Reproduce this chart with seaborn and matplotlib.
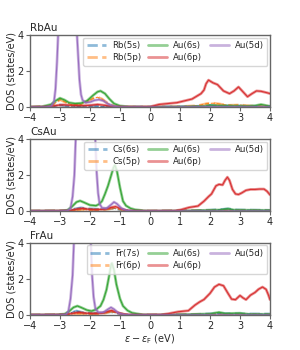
import matplotlib
matplotlib.use('Agg')
import matplotlib.pyplot as plt
import seaborn as sns
import numpy as np

# Projected DOS (energy in eV, DOS in states/eV)
RB_5S = [(-4, 0), (-3.2, 0.03), (-3.0, 0.12), (-2.8, 0.06), (-2.4, 0.04), (-1.8, 0.06), (-1.5, 0.03),
         (-1.0, 0), (1.0, 0.02), (1.8, 0.06), (2.0, 0.1), (2.3, 0.08), (3.0, 0.06), (4, 0.04)]
RB_5P = [(-4, 0), (-3.3, 0.05), (-3.1, 0.3), (-3.0, 0.42), (-2.85, 0.3), (-2.6, 0.12), (-2.3, 0.15),
         (-2.1, 0.3), (-1.9, 0.48), (-1.75, 0.55), (-1.6, 0.45), (-1.4, 0.2), (-1.2, 0.06), (-0.9, 0.01),
         (0, 0), (1.0, 0.03), (1.6, 0.08), (1.9, 0.2), (2.1, 0.22), (2.3, 0.18), (2.6, 0.1), (3.0, 0.12),
         (3.4, 0.06), (4, 0.05)]
RB_AU6S = [(-4, 0), (-3.6, 0.03), (-3.3, 0.15), (-3.15, 0.35), (-3.0, 0.5), (-2.85, 0.4), (-2.7, 0.25),
           (-2.5, 0.2), (-2.3, 0.22), (-2.1, 0.35), (-1.9, 0.65), (-1.75, 0.85), (-1.65, 0.9), (-1.5, 0.75),
           (-1.35, 0.45), (-1.2, 0.2), (-1.0, 0.07), (-0.7, 0.02), (0, 0), (1.0, 0.02), (1.8, 0.05),
           (2.0, 0.1), (2.3, 0.08), (2.8, 0.07), (3.2, 0.05), (3.5, 0.08), (3.7, 0.15), (3.85, 0.1), (4, 0.05)]
RB_AU6P = [(-4, 0), (-3.4, 0.02), (-3.1, 0.1), (-2.9, 0.13), (-2.6, 0.1), (-2.3, 0.08), (-2.0, 0.1),
           (-1.75, 0.15), (-1.5, 0.1), (-1.2, 0.03), (-0.8, 0.01), (0, 0.02), (0.3, 0.15), (0.9, 0.25),
           (1.4, 0.45), (1.7, 0.75), (1.8, 0.95), (1.87, 1.3), (1.95, 1.5), (2.1, 1.35), (2.25, 1.25),
           (2.45, 0.9), (2.65, 0.75), (2.8, 0.9), (2.95, 1.12), (3.1, 0.85), (3.25, 0.58), (3.4, 0.75),
           (3.55, 0.9), (3.7, 0.88), (3.9, 0.8), (4, 0.75)]
RB_AU5D = [(-4, 0), (-3.5, 0.01), (-3.3, 0.05), (-3.2, 0.3), (-3.15, 1.0), (-3.1, 2.5), (-3.05, 4.5),
           (-2.9, 8), (-2.6, 8), (-2.45, 4.5), (-2.4, 3.0), (-2.35, 1.5), (-2.3, 0.7), (-2.25, 0.4),
           (-2.15, 0.25), (-2.0, 0.28), (-1.85, 0.38), (-1.7, 0.42), (-1.55, 0.35), (-1.4, 0.18),
           (-1.2, 0.05), (-1.0, 0.01), (0, 0), (1.9, 0.02), (4, 0.01)]

CS_6S = [(-4, 0), (-2.7, 0.02), (-2.5, 0.12), (-2.3, 0.18), (-2.1, 0.13), (-1.9, 0.12), (-1.7, 0.1),
         (-1.45, 0.12), (-1.2, 0.15), (-1.0, 0.08), (-0.7, 0.01), (0, 0), (1.5, 0.03), (2.0, 0.05),
         (2.3, 0.08), (2.6, 0.12), (2.9, 0.06), (3.5, 0.05), (4, 0.04)]
CS_5P = [(-4, 0), (-2.7, 0.01), (-2.4, 0.06), (-2.2, 0.08), (-1.9, 0.05), (-1.4, 0.1), (-1.2, 0.18),
         (-1.05, 0.12), (-0.8, 0.02), (0, 0), (2.6, 0.03), (4, 0.01)]
CS_AU6S = [(-4, 0), (-3, 0.01), (-2.75, 0.05), (-2.6, 0.25), (-2.45, 0.5), (-2.33, 0.57), (-2.2, 0.48),
           (-2.0, 0.33), (-1.8, 0.3), (-1.7, 0.38), (-1.6, 0.55), (-1.5, 0.95), (-1.4, 1.4), (-1.3, 1.95),
           (-1.22, 2.4), (-1.17, 2.55), (-1.1, 2.2), (-1.0, 1.3), (-0.9, 0.55), (-0.8, 0.3), (-0.65, 0.15),
           (-0.5, 0.08), (-0.2, 0.02), (0, 0), (1.0, 0.01), (1.8, 0.04), (2.3, 0.06), (2.6, 0.12),
           (2.8, 0.06), (3.2, 0.05), (4, 0.04)]
CS_AU6P = [(-4, 0), (-2.7, 0.02), (-2.4, 0.12), (-2.25, 0.15), (-2.05, 0.1), (-1.8, 0.08), (-1.5, 0.1),
           (-1.3, 0.2), (-1.15, 0.25), (-1.0, 0.15), (-0.8, 0.04), (-0.5, 0), (0.8, 0.01), (1.0, 0.06),
           (1.3, 0.2), (1.6, 0.28), (1.8, 0.55), (1.95, 0.8), (2.05, 0.95), (2.2, 1.4), (2.3, 1.48),
           (2.42, 1.45), (2.5, 1.7), (2.58, 1.88), (2.65, 1.7), (2.75, 1.2), (2.85, 0.95), (2.95, 0.92),
           (3.05, 1.0), (3.2, 1.15), (3.35, 1.2), (3.5, 1.2), (3.65, 1.22), (3.8, 1.22), (3.9, 1.1), (4, 0.9)]
CS_AU5D = [(-4, 0), (-3, 0), (-2.75, 0.02), (-2.65, 0.15), (-2.58, 0.8), (-2.52, 2.0), (-2.47, 4.3),
           (-2.3, 8), (-2.0, 8), (-1.83, 4.3), (-1.78, 2.2), (-1.73, 1.0), (-1.68, 0.4), (-1.6, 0.18),
           (-1.45, 0.15), (-1.3, 0.35), (-1.2, 0.5), (-1.1, 0.4), (-0.95, 0.15), (-0.8, 0.04), (-0.5, 0), (4, 0)]

FR_7S = [(-4, 0), (-2.8, 0.02), (-2.6, 0.15), (-2.45, 0.22), (-2.2, 0.12), (-1.9, 0.1), (-1.6, 0.12),
         (-1.3, 0.18), (-1.1, 0.1), (-0.8, 0.01), (0, 0), (1.5, 0.03), (2.3, 0.08), (3.0, 0.06), (4, 0.05)]
FR_6P = [(-4, 0), (-2.8, 0.01), (-2.5, 0.08), (-2.3, 0.07), (-1.9, 0.05), (-1.5, 0.1), (-1.3, 0.2),
         (-1.1, 0.12), (-0.8, 0.02), (0, 0), (2.3, 0.03), (4, 0.01)]
FR_AU6S = [(-4, 0), (-3.2, 0.01), (-2.85, 0.05), (-2.7, 0.2), (-2.55, 0.42), (-2.42, 0.5), (-2.3, 0.42),
           (-2.1, 0.27), (-1.95, 0.22), (-1.8, 0.3), (-1.65, 0.5), (-1.55, 0.85), (-1.45, 1.4), (-1.37, 2.1),
           (-1.3, 2.75), (-1.27, 2.87), (-1.2, 2.5), (-1.12, 1.7), (-1.0, 0.9), (-0.9, 0.5), (-0.75, 0.25),
           (-0.6, 0.12), (-0.3, 0.03), (0, 0), (1.0, 0.02), (2.0, 0.06), (2.3, 0.15), (2.5, 0.08),
           (3.0, 0.1), (3.3, 0.04), (4, 0.04)]
FR_AU6P = [(-4, 0), (-2.8, 0.02), (-2.5, 0.12), (-2.35, 0.15), (-2.15, 0.1), (-1.9, 0.08), (-1.6, 0.1),
           (-1.4, 0.2), (-1.28, 0.25), (-1.1, 0.15), (-0.9, 0.04), (-0.5, 0), (0.4, 0.02), (0.6, 0.07),
           (0.94, 0.18), (1.28, 0.24), (1.5, 0.55), (1.65, 0.72), (1.8, 0.86), (2.0, 1.2), (2.15, 1.55),
           (2.3, 1.7), (2.45, 1.62), (2.6, 1.2), (2.72, 0.88), (2.85, 0.85), (3.0, 1.08), (3.1, 0.95),
           (3.2, 0.85), (3.35, 1.1), (3.5, 1.25), (3.62, 1.43), (3.75, 1.55), (3.87, 1.42), (3.95, 1.1), (4, 0.85)]
FR_AU5D = [(-4, 0), (-3, 0), (-2.8, 0.03), (-2.72, 0.2), (-2.65, 0.9), (-2.58, 2.2), (-2.53, 4.3),
           (-2.3, 8), (-2.1, 8), (-1.98, 4.3), (-1.93, 2.2), (-1.88, 1.0), (-1.82, 0.35), (-1.72, 0.15),
           (-1.55, 0.15), (-1.4, 0.32), (-1.3, 0.42), (-1.2, 0.32), (-1.05, 0.1), (-0.85, 0.02), (-0.5, 0), (4, 0)]

compounds = ['RbAu', 'CsAu', 'FrAu']
labels = [['Rb(5s)', 'Rb(5p)', 'Au(6s)', 'Au(6p)', 'Au(5d)'],
          ['Cs(6s)', 'Cs(5p)', 'Au(6s)', 'Au(6p)', 'Au(5d)'],
          ['Fr(7s)', 'Fr(6p)', 'Au(6s)', 'Au(6p)', 'Au(5d)']]
series = [[RB_5S, RB_5P, RB_AU6S, RB_AU6P, RB_AU5D],
          [CS_6S, CS_5P, CS_AU6S, CS_AU6P, CS_AU5D],
          [FR_7S, FR_6P, FR_AU6S, FR_AU6P, FR_AU5D]]

colors = sns.color_palette('tab10', 5)
styles = ['--', '--', '-', '-', '-']

sns.set_style('ticks')
plt.rcParams['font.family'] = ['DejaVu Sans']

fig, axes = plt.subplots(3, 1, figsize=(3, 3.5), dpi=100)
fig.subplots_adjust(left=0.1, right=0.9, bottom=0.1, top=0.9, hspace=0.44)

for ax, name, labs, data in zip(axes, compounds, labels, series):
    for pts, lab, c, ls in zip(data, labs, colors, styles):
        e = np.array([p[0] for p in pts])
        d = np.array([p[1] for p in pts])
        # wide translucent line plus thin line on top
        sns.lineplot(x=e, y=d, ax=ax, color=c, linestyle=ls, lw=2.0, alpha=0.5,
                     label=lab, estimator=None, sort=False)
        sns.lineplot(x=e, y=d, ax=ax, color=c, linestyle=ls, lw=0.8, alpha=0.9,
                     estimator=None, sort=False)
    ax.set_xlim(-4, 4)
    ax.set_ylim(0, 4)
    ax.set_yticks([0, 2, 4])
    ax.set_xticks(range(-4, 5))
    ax.tick_params(labelsize=7, length=3, width=0.8, color='0.4', pad=1.5)
    for s in ax.spines.values():
        s.set_color('0.4')
        s.set_linewidth(1.0)
    ax.set_ylabel('DOS (states/eV)', fontsize=7, labelpad=1)
    ax.set_title(name, loc='left', fontsize=7.5, pad=3)
    h, l = ax.get_legend_handles_labels()
    ax.legend(h[:5], l[:5], ncol=3, loc='upper right', fontsize=6.2, handlelength=2.2,
              columnspacing=0.85, borderpad=0.45, labelspacing=0.3, handletextpad=0.7,
              borderaxespad=0.3, framealpha=0.8, fancybox=True)

axes[-1].set_xlabel(r'$\varepsilon - \varepsilon_\mathrm{F}$ (eV)', fontsize=7, labelpad=1)

fig.savefig('out.png', dpi=100)
plt.close(fig)
